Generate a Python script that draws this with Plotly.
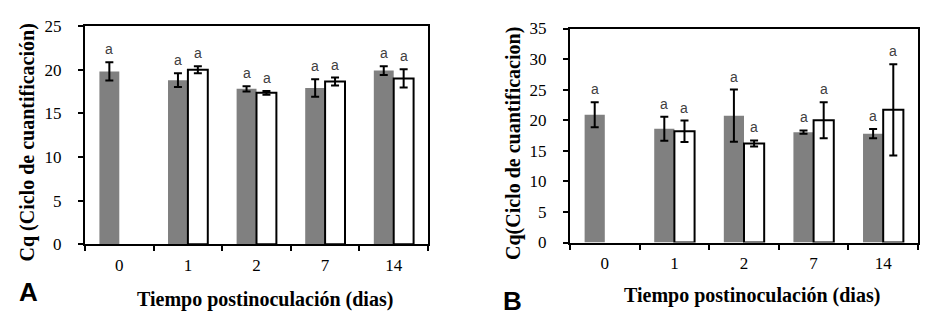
import plotly.graph_objects as go

W, H = 942, 334

categories = ["0", "1", "2", "7", "14"]

a_gray = [19.8, 18.8, 17.8, 17.9, 19.9]
a_gray_err = [1.05, 0.8, 0.3, 1.0, 0.5]
a_white = [None, 20.0, 17.35, 18.65, 19.0]
a_white_err = [None, 0.4, 0.22, 0.45, 1.05]

b_gray = [20.9, 18.6, 20.75, 18.05, 17.8]
b_gray_err = [2.05, 1.95, 4.27, 0.27, 0.77]
b_white = [None, 18.2, 16.2, 20.0, 21.7]
b_white_err = [None, 1.75, 0.5, 2.95, 7.47]

sig_letter = "a"

SERIF = "Liberation Serif"
SANS = "Liberation Sans"

fig = go.Figure()


def add_panel(xa, ya, gray, gerr, white, werr):
    fig.add_trace(go.Bar(
        x=categories, y=gray, xaxis=xa, yaxis=ya,
        marker=dict(color="#808080", line=dict(width=0)),
        error_y=dict(type="data", array=gerr, color="black", thickness=2, width=4),
        showlegend=False,
    ))
    fig.add_trace(go.Bar(
        x=categories, y=white, xaxis=xa, yaxis=ya,
        marker=dict(color="white", line=dict(color="black", width=2)),
        error_y=dict(type="data", array=werr, color="black", thickness=2, width=4),
        showlegend=False,
    ))
    for i, c in enumerate(categories):
        for vals, errs, shift in ((gray, gerr, -10), (white, werr, 10)):
            if vals[i] is None:
                continue
            fig.add_annotation(
                x=i, y=vals[i] + errs[i], xref=xa, yref=ya,
                text=sig_letter, showarrow=False, xshift=shift, yshift=3,
                yanchor="bottom", font=dict(family=SANS, size=14, color="#404040"),
            )


add_panel("x", "y", a_gray, a_gray_err, a_white, a_white_err)
add_panel("x2", "y2", b_gray, b_gray_err, b_white, b_white_err)

axis_common = dict(
    showline=True, mirror=True, linewidth=2, linecolor="black",
    ticks="outside", ticklen=5, tickwidth=2, tickcolor="black",
    showgrid=False, zeroline=False, automargin=False,
    tickfont=dict(family=SERIF, size=17, color="black"),
)

xcommon = dict(axis_common, type="category", range=[-0.5, 4.5],
               tickson="boundaries", ticklabelstandoff=4)

fig.update_layout(
    template="none",
    width=W, height=H,
    margin=dict(l=0, r=0, t=0, b=0, pad=0),
    paper_bgcolor="white", plot_bgcolor="white",
    barmode="group", bargap=0.42, bargroupgap=0,
    xaxis=dict(xcommon, domain=[85 / W, 428 / W], anchor="y"),
    yaxis=dict(axis_common, domain=[1 - 244.3 / H, 1 - 26 / H], range=[0, 25],
               dtick=5, anchor="x", ticklabelstandoff=13),
    xaxis2=dict(xcommon, domain=[570 / W, 918 / W], anchor="y2"),
    yaxis2=dict(axis_common, domain=[1 - 242.5 / H, 1 - 28.5 / H], range=[0, 35],
                dtick=5, anchor="x2", ticklabelstandoff=13),
)

texts = [
    dict(text="<b>Cq (Ciclo de cuantificación)</b>", x=27, y=142.5, textangle=-90, size=20, family=SERIF),
    dict(text="<b>Cq(Ciclo de cuantificacion)</b>", x=513, y=144, textangle=-90, size=20, family=SERIF),
    dict(text="<b>Tiempo postinoculación (dias)</b>", x=264.5, y=299.5, textangle=0, size=20, family=SERIF),
    dict(text="<b>Tiempo postinoculación (dias)</b>", x=751.5, y=295, textangle=0, size=20, family=SERIF),
    dict(text="<b>A</b>", x=28, y=291.5, textangle=0, size=26, family=SANS),
    dict(text="<b>B</b>", x=512.5, y=301, textangle=0, size=26, family=SANS),
]
for t in texts:
    fig.add_annotation(
        x=t["x"] / W, y=1 - t["y"] / H, xref="paper", yref="paper",
        text=t["text"], textangle=t["textangle"], showarrow=False,
        xanchor="center", yanchor="middle",
        font=dict(family=t["family"], size=t["size"], color="black"),
    )

fig.write_html("out.html", config={"displayModeBar": False},
               post_script="document.body.style.margin='0';")
